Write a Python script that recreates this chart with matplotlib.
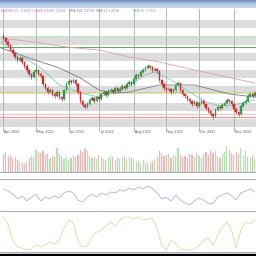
import numpy as np
import matplotlib.pyplot as plt
from matplotlib.lines import Line2D
from matplotlib.patches import Rectangle

# daily candles (index = trading day)
opens = [164, 162, 158, 155, 150, 147, 143, 140, 142, 138,
         134, 130, 126, 123, 128, 130, 126, 124, 116, 112,
         108, 110, 106, 104, 108, 103, 101, 110, 116, 119,
         118, 120, 116, 108, 99, 95, 93, 96, 100, 102,
         99, 103, 101, 106, 108, 105, 109, 110, 108, 112,
         109, 111, 114, 112, 116, 118, 116, 121, 125, 124,
         128, 130, 132, 134, 133, 130, 131, 129, 120, 116,
         112, 110, 111, 108, 110, 115, 117, 110, 106, 104,
         101, 99, 96, 98, 94, 97, 99, 96, 92, 89,
         86, 84, 90, 93, 92, 95, 97, 100, 99, 96,
         91, 88, 86, 94, 97, 99, 104, 106, 104, 107]
closes = [162, 158, 155, 150, 147, 143, 140, 142, 138, 134,
          130, 126, 123, 128, 130, 126, 124, 116, 112, 108,
          110, 106, 104, 108, 103, 101, 110, 116, 119, 118,
          120, 116, 108, 99, 95, 93, 96, 100, 102, 99,
          103, 101, 106, 108, 105, 109, 110, 108, 112, 109,
          111, 114, 112, 116, 118, 116, 121, 125, 124, 128,
          130, 132, 134, 133, 130, 131, 129, 120, 116, 112,
          110, 111, 108, 110, 115, 117, 110, 106, 104, 101,
          99, 96, 98, 94, 97, 99, 96, 92, 89, 86,
          84, 90, 93, 92, 95, 97, 100, 99, 96, 91,
          88, 86, 94, 97, 99, 104, 106, 104, 107, 105]
highs = [166, 163, 160, 156, 152, 148, 145, 144, 143, 139,
         136, 131, 127, 130, 133, 131, 128, 125, 117, 114,
         112, 111, 108, 110, 109, 104, 111, 118, 121, 121,
         122, 121, 117, 109, 100, 97, 98, 102, 104, 103,
         105, 104, 108, 110, 109, 111, 112, 111, 114, 113,
         113, 116, 115, 118, 120, 119, 123, 127, 126, 130,
         132, 134, 136, 135, 134, 133, 132, 130, 121, 117,
         113, 113, 112, 112, 117, 119, 118, 111, 107, 105,
         102, 100, 100, 99, 99, 101, 100, 97, 93, 90,
         87, 92, 95, 94, 97, 99, 102, 101, 100, 97,
         92, 89, 96, 99, 101, 106, 108, 107, 109, 108]
lows = [160, 157, 153, 149, 145, 141, 138, 139, 136, 132,
        128, 124, 121, 122, 127, 125, 122, 114, 110, 106,
        107, 104, 102, 103, 101, 99, 100, 109, 115, 116,
        117, 114, 106, 97, 93, 91, 92, 95, 99, 97,
        98, 99, 100, 105, 103, 104, 108, 106, 107, 107,
        108, 110, 110, 111, 115, 114, 115, 120, 122, 123,
        127, 129, 131, 131, 128, 129, 127, 118, 114, 110,
        108, 109, 106, 107, 109, 114, 108, 104, 102, 99,
        97, 94, 95, 92, 93, 96, 94, 90, 87, 84,
        81, 83, 89, 90, 91, 94, 96, 97, 94, 89,
        86, 84, 85, 93, 96, 98, 103, 102, 103, 103]
volumes = [18, 20, 16, 17, 14, 15, 12, 10, 9, 8,
           10, 14, 16, 15, 22, 20, 19, 21, 17, 18,
           14, 16, 15, 24, 18, 16, 13, 15, 12, 14,
           16, 15, 17, 22, 20, 23, 21, 16, 14, 15,
           13, 17, 15, 13, 12, 14, 16, 15, 12, 14,
           13, 14, 16, 13, 15, 14, 13, 10, 11, 9,
           12, 9, 10, 9, 11, 13, 15, 21, 19, 16,
           17, 18, 14, 17, 16, 24, 17, 15, 16, 14,
           18, 17, 15, 19, 16, 14, 18, 20, 17, 22,
           19, 21, 15, 14, 18, 20, 26, 22, 19, 17,
           20, 18, 24, 16, 21, 15, 14, 17, 13, 16]

# moving averages (sampled points)
ma_fast_x = [-1, 7, 16, 24, 33, 41, 48, 54, 61, 65, 72, 80, 87, 93, 99, 108]
ma_fast = [158, 145, 132, 115, 107, 103, 108, 114, 125, 128, 120, 108, 98, 94, 95, 100]
ma_mid_x = [-1, 11, 24, 33, 41, 48, 54, 67, 82, 97, 108]
ma_mid = [152, 142, 132, 122, 110, 107, 108, 115, 115, 106, 103]
ma_slow_x = [-1, 13, 27, 41, 54, 67, 82, 108]
ma_slow = [162, 158, 153, 150, 143, 138, 130, 117]

# oscillators, every second day
osc_x = list(range(0, 110, 2))
rsi = [70, 63, 53, 37, 47, 30, 43, 53, 30, 43, 37, 47, 40, 57, 63, 57, 33, 27, 43, 53,
       43, 57, 50, 60, 57, 67, 63, 73, 67, 77, 70, 80, 73, 57, 37, 43, 30, 50, 33, 23,
       17, 30, 40, 33, 23, 20, 43, 50, 57, 47, 33, 57, 63, 70, 60]
stoch = [90, 67.5, 30, 12.5, 10, 5, 7.5, 17.5, 12.5, 17.5, 25, 20, 30, 60, 80, 72.5, 30, 12.5, 15, 37.5,
         50, 55, 65, 75, 65, 80, 87.5, 87.5, 82.5, 87.5, 80, 82.5, 85, 60, 17.5, 5, 30, 20, 7.5, 5,
         5, 7.5, 15, 30, 35, 17.5, 40, 62.5, 75, 55, 10, 55, 75, 70, 80]

levels = [164, 153, 108, 86, 83]
level_colors = ['#c2e6c2', '#6aaa6a', '#dcd47a', '#efc2c2', '#e49494']

months = ["Apr 2022", "May 2022", "Jun 2022", "Jul 2022",
          "Aug 2022", "Sep 2022", "Oct 2022", "Nov 2022"]
month_idx = [0, 14, 28, 41, 56, 70, 84, 99]

W = 256.0


def rect(top, bottom):
    return [0, 1 - bottom / W, 1, (bottom - top) / W]


fig = plt.figure(figsize=(2.56, 2.56), dpi=100, facecolor='white')
x = np.arange(len(closes))
xlim = (-1.5, 108.5)

# title bar
ax_t = fig.add_axes(rect(0, 8))
grad = np.linspace(0, 1, 50).reshape(-1, 1)
ax_t.imshow(grad, aspect='auto', cmap=plt.matplotlib.colors.LinearSegmentedColormap.from_list(
    'tb', ['#6f8cbf', '#b3c9e6', '#c9daf0']), extent=[0, 1, 0, 1])
ax_t.axis('off')

# price panel
ax = fig.add_axes(rect(9, 127))
ax.set_xlim(*xlim)
ax.set_ylim(73, 191)
for k, lo in enumerate(np.arange(72.75, 180, 8.25)):
    if k % 2 == 0:
        ax.axhspan(lo, lo + 8.25, color='#dcdcdc', lw=0, zorder=0)
for m in month_idx:
    ax.axvline(m, ymin=-0.03, ymax=1, color='#b4b4b4', lw=0.7, clip_on=False, zorder=1)
for lv, col in zip(levels, level_colors):
    ax.axhline(lv, color=col, lw=0.8, zorder=1)

ax.plot(ma_slow_x, ma_slow, color='#d8a2b0', lw=0.6, zorder=2)
ax.plot(ma_mid_x, ma_mid, color='#7a7a8a', lw=0.6, zorder=2)
ax.plot(ma_fast_x, ma_fast, color='#80c6ca', lw=0.6, zorder=2)

o = np.array(opens)
c = np.array(closes)
up = c >= o
cols = np.where(up, '#2f9a4a', '#cc2f2f')
ax.vlines(x, lows, highs, colors=cols, lw=0.5, zorder=3)
ax.bar(x, np.maximum(np.abs(c - o), 0.5), bottom=np.minimum(o, c), width=0.65,
       color=cols, edgecolor=cols, lw=0.3, zorder=4)
ax.set_xticks([])
ax.set_yticks([])
for s in ax.spines.values():
    s.set_visible(False)
for m, lab in zip(month_idx, months):
    ax.text(m + 0.4, -0.022, lab, transform=ax.get_xaxis_transform(),
            fontsize=2.4, color='#555555', ha='left', va='top')

fig.text(0.004, 1 - 11.5 / W, "EURUSD.D1  1.0412 1.0438 1.0395 1.0421", fontsize=2.2,
         color='#b070b0', va='center')
fig.text(0.27, 1 - 11.5 / W, "SMA 200 1.0729  SMA 50 1.0516", fontsize=2.2,
         color='#8a6fa0', va='center')
fig.text(0.52, 1 - 11.5 / W, "SMA 20 1.0333", fontsize=2.2, color='#70a0c0', va='center')

# volume panel
ax_v = fig.add_axes(rect(140, 173))
ax_v.set_xlim(*xlim)
ax_v.set_ylim(-1, 32)
vcols = np.where(up, '#b4e2b4', '#e6bcba')
ax_v.bar(x, volumes, width=0.5, color=vcols, edgecolor=vcols, lw=0.2)
ax_v.axhline(0, color='#a8a8a8', lw=0.8)
ax_v.axis('off')

# rsi panel
ax_r = fig.add_axes(rect(180, 210))
ax_r.set_xlim(*xlim)
ax_r.set_ylim(0, 100)
ax_r.plot(osc_x, rsi, color='#aaa2d6', lw=0.5)
ax_r.axis('off')

# stochastic panel
ax_s = fig.add_axes(rect(212, 252))
ax_s.set_xlim(*xlim)
ax_s.set_ylim(0, 100)
ax_s.plot(osc_x, stoch, color='#e8d2a4', lw=0.6)
ax_s.axis('off')

for py in [179, 211, 252]:
    fig.add_artist(Line2D([0, 1], [1 - py / W] * 2, color='#b0b0b0', lw=0.8))
fig.add_artist(Rectangle((0, 0), 1, 2.5 / W, color='black', transform=fig.transFigure))

fig.savefig('out.png', dpi=100)
